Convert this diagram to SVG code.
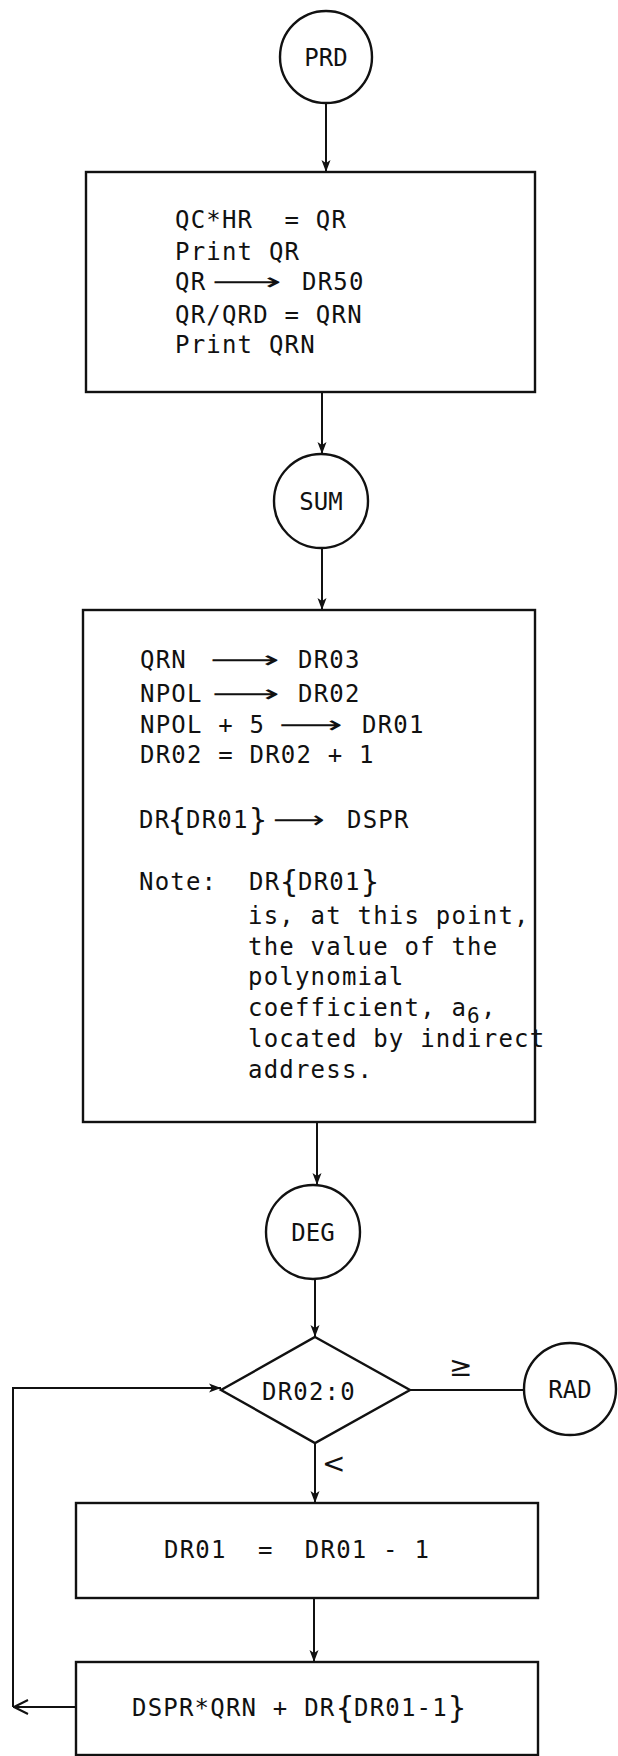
<svg xmlns="http://www.w3.org/2000/svg" width="618" height="1756" viewBox="0 0 618 1756">
<style>
.bg{fill:#fff}
.shape{fill:none;stroke:#111;stroke-width:2.4}
.conn{fill:none;stroke:#111;stroke-width:2}
.t{font-family:"DejaVu Sans Mono","Liberation Mono",monospace;font-size:24px;letter-spacing:1.2px;fill:#111;white-space:pre}
.br{font-size:30px;letter-spacing:0}
.ar{font-family:"DejaVu Sans","Liberation Sans",sans-serif;letter-spacing:0}
.c{font-family:"DejaVu Sans Mono","Liberation Mono",monospace;font-size:24px;fill:#111;text-anchor:middle}
.lbl{font-family:"DejaVu Sans","Liberation Sans",sans-serif;font-size:28px;fill:#111}
</style>
<defs>
<marker id="ah" viewBox="0 0 12 10" refX="12" refY="5" markerWidth="12" markerHeight="10" markerUnits="userSpaceOnUse" orient="auto">
<path d="M0,0.5 L12,5 L0,9.5 L3,5 Z" fill="#111"/>
</marker>
</defs>
<rect class="bg" x="0" y="0" width="618" height="1756"/>

<g id="connectors">
<path class="conn" d="M326,103 V172" marker-end="url(#ah)"/>
<path class="conn" d="M322,392 V454" marker-end="url(#ah)"/>
<path class="conn" d="M322,548 V610" marker-end="url(#ah)"/>
<path class="conn" d="M317,1122 V1185" marker-end="url(#ah)"/>
<path class="conn" d="M315,1279 V1337" marker-end="url(#ah)"/>
<path class="conn" d="M410,1390 H524"/>
<path class="conn" d="M315,1443 V1503" marker-end="url(#ah)"/>
<path class="conn" d="M314,1598 V1662" marker-end="url(#ah)"/>
<path class="conn" d="M76,1707 H13"/>
<path class="conn" d="M14,1707 L28,1700 M14,1707 L28,1714"/>
<path class="conn" d="M13,1707 V1388 H221" marker-end="url(#ah)"/>
<text class="lbl" x="449" y="1376">≥</text>
<text class="lbl" x="322" y="1473" font-size="24">&lt;</text>
</g>

<g id="prd">
<circle class="shape" cx="326" cy="57" r="46"/>
<text class="c" x="326" y="66">PRD</text>
</g>

<g id="box1">
<rect class="shape" x="86" y="172" width="449" height="220"/>
<text class="t" x="175" y="228">QC*HR  = QR</text>
<text class="t" x="175" y="260">Print QR</text>
<text class="t" y="290"><tspan x="175">QR</tspan><tspan class="ar" x="212" textLength="70" lengthAdjust="spacingAndGlyphs">⟶</tspan><tspan x="302">DR50</tspan></text>
<text class="t" x="175" y="323">QR/QRD = QRN</text>
<text class="t" x="175" y="353">Print QRN</text>
</g>

<g id="sum">
<circle class="shape" cx="321" cy="501" r="47"/>
<text class="c" x="321" y="510">SUM</text>
</g>

<g id="box2">
<rect class="shape" x="83" y="610" width="452" height="512"/>
<text class="t" y="668"><tspan x="140">QRN</tspan><tspan class="ar" x="210" textLength="70" lengthAdjust="spacingAndGlyphs">⟶</tspan><tspan x="298">DR03</tspan></text>
<text class="t" y="702"><tspan x="140">NPOL</tspan><tspan class="ar" x="212" textLength="68" lengthAdjust="spacingAndGlyphs">⟶</tspan><tspan x="298">DR02</tspan></text>
<text class="t" y="733"><tspan x="140">NPOL + 5</tspan><tspan class="ar" x="279" textLength="64" lengthAdjust="spacingAndGlyphs">⟶</tspan><tspan x="362">DR01</tspan></text>
<text class="t" x="140" y="763">DR02 = DR02 + 1</text>
<text class="t" y="828"><tspan x="139">DR</tspan><tspan class="br" x="168" dy="2">{</tspan><tspan x="186" dy="-2">DR01</tspan><tspan class="br" x="249" dy="2">}</tspan><tspan class="ar" x="273" dy="-2" textLength="52" lengthAdjust="spacingAndGlyphs">⟶</tspan><tspan x="347">DSPR</tspan></text>
<text class="t" y="890"><tspan x="139">Note:</tspan><tspan x="249">DR</tspan><tspan class="br" x="280" dy="2">{</tspan><tspan x="298" dy="-2">DR01</tspan><tspan class="br" x="361" dy="2">}</tspan></text>
<text class="t" x="248" y="924">is, at this point,</text>
<text class="t" x="248" y="955">the value of the</text>
<text class="t" x="248" y="985">polynomial</text>
<text class="t" x="248" y="1016">coefficient, a<tspan font-size="21" dy="7">6</tspan><tspan dy="-7">,</tspan></text>
<text class="t" x="248" y="1047">located by indirect</text>
<text class="t" x="248" y="1078">address.</text>
</g>

<g id="deg">
<circle class="shape" cx="313" cy="1232" r="47"/>
<text class="c" x="313" y="1241">DEG</text>
</g>

<g id="decision">
<polygon class="shape" points="315,1337 410,1390 315,1443 221,1390"/>
<text class="t" x="262" y="1400">DR02:0</text>
</g>

<g id="rad">
<circle class="shape" cx="570" cy="1389" r="46"/>
<text class="c" x="570" y="1398">RAD</text>
</g>

<g id="box3">
<rect class="shape" x="76" y="1503" width="462" height="95"/>
<text class="t" x="164" y="1558">DR01  =  DR01 - 1</text>
</g>

<g id="box4">
<rect class="shape" x="76" y="1662" width="462" height="93"/>
<text class="t" y="1716"><tspan x="132">DSPR*QRN + DR</tspan><tspan class="br" x="336" dy="2">{</tspan><tspan x="354" dy="-2">DR01-1</tspan><tspan class="br" x="448" dy="2">}</tspan></text>
</g>
</svg>
